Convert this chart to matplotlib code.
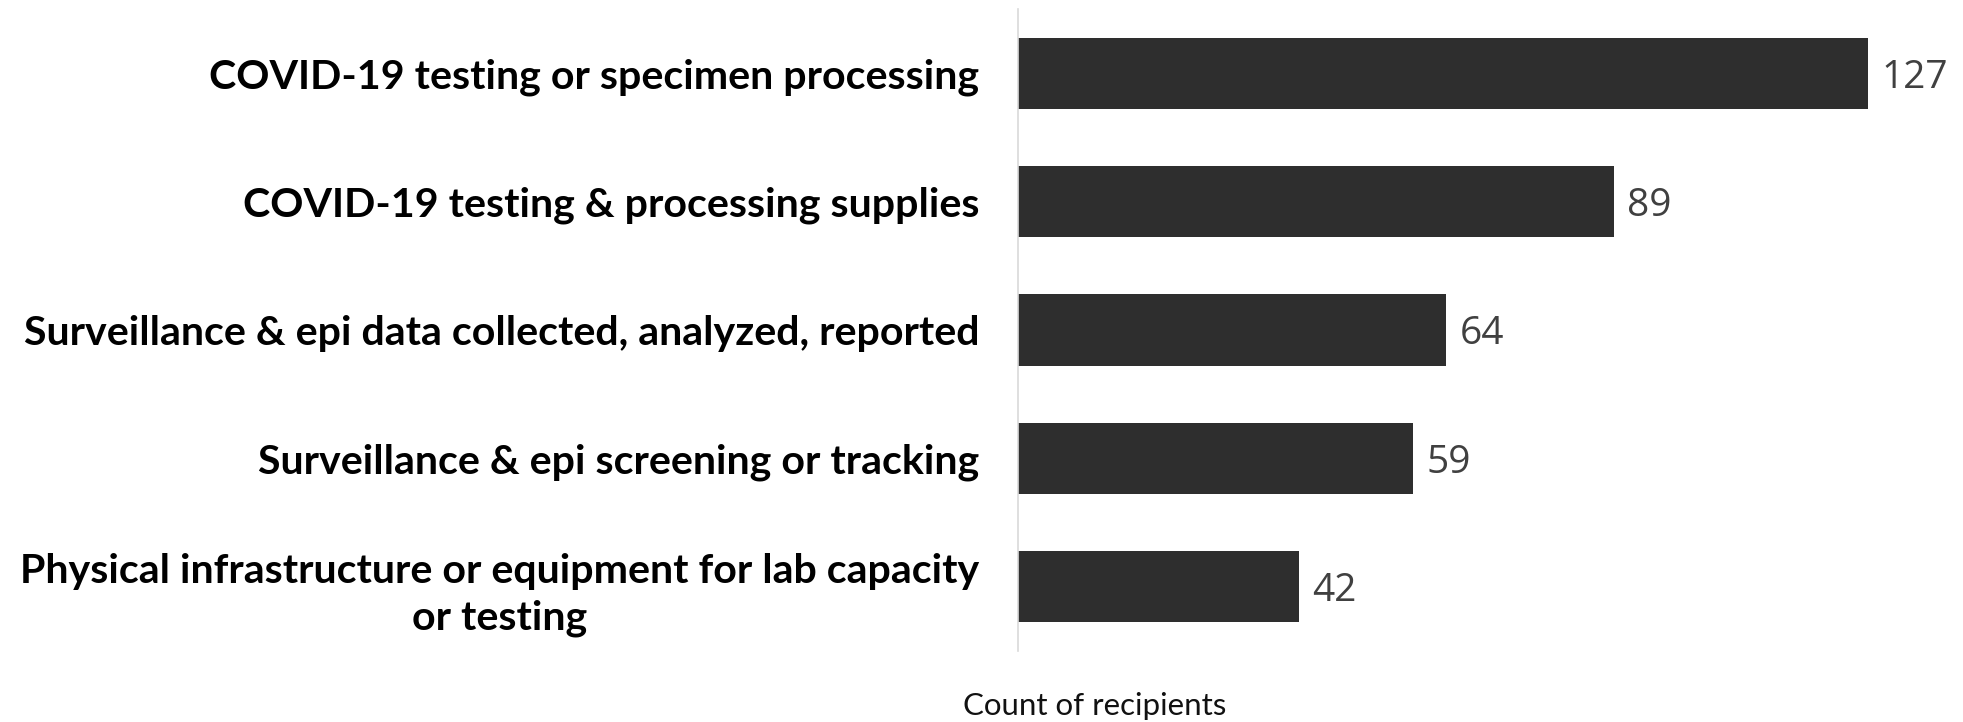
import matplotlib.pyplot as plt

categories = [
    "COVID-19 testing or specimen processing",
    "COVID-19 testing & processing supplies",
    "Surveillance & epi data collected, analyzed, reported",
    "Surveillance & epi screening or tracking",
    "Physical infrastructure or equipment for lab capacity\nor testing",
]
counts = [127, 89, 64, 59, 42]
x_label = "Count of recipients"

W, H = 1963, 722
fig = plt.figure(figsize=(W / 100, H / 100), dpi=100)
ax = fig.add_axes([1018 / W, 1 - 651 / H, (W - 1018) / W, 642 / H])

ypos = list(range(len(categories)))
ax.barh(ypos, counts, height=0.553, color="#2e2e2e")
ax.set_xlim(0, 141.2)
ax.set_ylim(len(categories) - 0.5, -0.5)

for y, v in zip(ypos, counts):
    ax.text(v + 2.0, y, str(v), va="center_baseline", ha="left", fontsize=28,
            family="Open Sans", color="#404040")

ax.set_yticks(ypos)
ax.set_yticklabels(categories, fontsize=29.6, family="Lato", fontweight="bold",
                   color="black", linespacing=1.3)
for lbl in ax.get_yticklabels():
    lbl.set_multialignment("center")
ax.tick_params(axis="y", length=0, pad=28)
ax.set_xticks([])

for s in ["top", "right", "bottom"]:
    ax.spines[s].set_visible(False)
ax.spines["left"].set_color("#d9d9d9")
ax.spines["left"].set_linewidth(1.2)

fig.text(1095 / W, 2 / H, x_label, ha="center", va="bottom",
         fontsize=22.5, family="Lato", fontweight="normal", color="#111111")

fig.savefig("out.png", dpi=100)
